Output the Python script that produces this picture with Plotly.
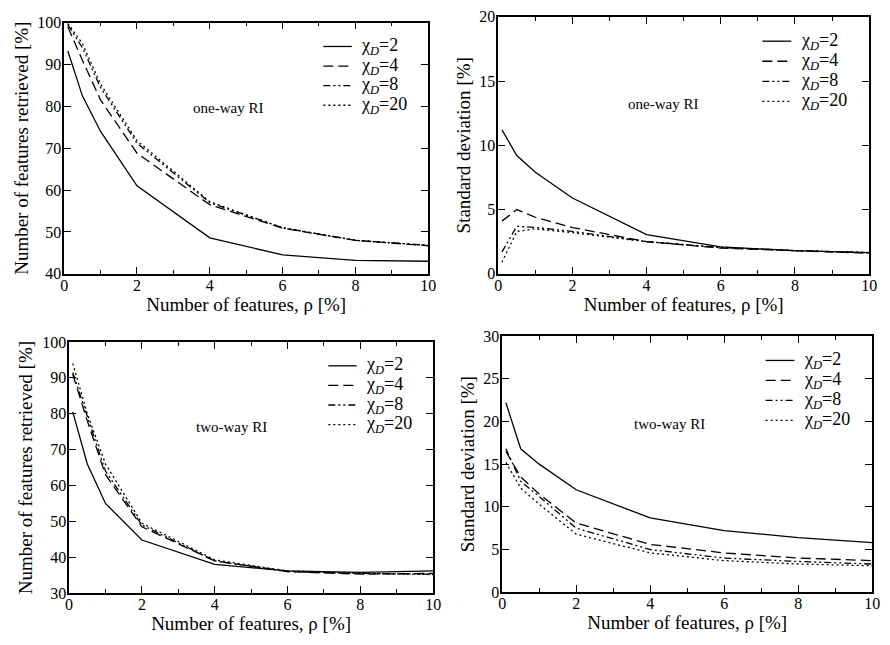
import plotly.graph_objects as go

# Feature fraction rho [%] at which each curve was evaluated
rho = [0.1, 0.5, 1, 2, 4, 6, 8, 10]
chi_levels = ["2", "4", "8", "20"]

# One-way RI: features retrieved [%]
one_way_retrieved = {
    "2": [93.2, 82.5, 74.0, 61.0, 48.6, 44.5, 43.2, 43.0],
    "4": [99.0, 91.0, 81.5, 68.8, 56.5, 50.9, 48.0, 46.7],
    "8": [99.5, 94.0, 84.5, 71.2, 57.0, 51.0, 48.0, 46.8],
    "20": [99.8, 95.0, 85.3, 71.8, 57.2, 51.0, 48.0, 46.8],
}
# One-way RI: standard deviation [%]
one_way_std = {
    "2": [11.2, 9.2, 7.9, 5.9, 3.05, 2.1, 1.8, 1.65],
    "4": [4.1, 5.0, 4.4, 3.6, 2.5, 2.0, 1.8, 1.6],
    "8": [1.7, 3.7, 3.6, 3.3, 2.5, 2.05, 1.8, 1.65],
    "20": [0.9, 3.3, 3.5, 3.2, 2.5, 2.05, 1.8, 1.65],
}
# Two-way RI: features retrieved [%]
two_way_retrieved = {
    "2": [80.5, 66.0, 55.0, 44.8, 38.0, 36.2, 35.8, 36.2],
    "4": [91.0, 78.0, 63.0, 48.5, 39.0, 36.0, 35.3, 35.5],
    "8": [91.5, 79.0, 64.0, 49.0, 39.0, 36.0, 35.5, 35.3],
    "20": [94.0, 80.0, 66.0, 49.5, 39.3, 36.2, 35.5, 35.2],
}
# Two-way RI: standard deviation [%]
two_way_std = {
    "2": [22.2, 16.8, 15.0, 12.0, 8.7, 7.2, 6.4, 5.8],
    "4": [16.5, 13.5, 11.5, 8.1, 5.6, 4.6, 4.0, 3.7],
    "8": [16.8, 13.0, 11.2, 7.5, 5.0, 4.0, 3.6, 3.3],
    "20": [15.2, 12.2, 10.3, 6.8, 4.6, 3.7, 3.3, 3.1],
}

dash_styles = {
    "2": "solid",
    "4": "10px,5px",
    "8": "7px,3px,2px,3px,2px,3px",
    "20": "2px,3px",
}

W, H = 890, 645
FONT = "Liberation Serif"

panels = [
    # data, y-range, y-dtick, y-title, label, x-pixels, y-pixels (top, bottom), label pos
    (one_way_retrieved, [40, 100], 10, "Number of features retrieved [%]", "one-way RI",
     (61, 430), (15, 273), (4.5, 79.5)),
    (one_way_std, [0, 20], 5, "Standard deviation [%]", "one-way RI",
     (501, 877), (9, 273), (4.45, 13.2)),
    (two_way_retrieved, [30, 100], 10, "Number of features retrieved [%]", "two-way RI",
     (66, 435), (343, 601), (4.47, 76.4)),
    (two_way_std, [0, 30], 5, "Standard deviation [%]", "two-way RI",
     (505, 880), (337, 600), (4.53, 19.7)),
]

# Key placement inside each panel (axis-domain fractions)
key_x0, key_x1, key_text_x = 0.712, 0.79, 0.81
key_rows = [0.905, 0.827, 0.749, 0.671]

fig = go.Figure()
layout = dict(
    width=W, height=H,
    margin=dict(l=0, r=0, t=0, b=0),
    paper_bgcolor="white", plot_bgcolor="white",
    font=dict(family=FONT, color="black"),
    showlegend=False,
)
annotations = []
shapes = []

for i, (data, yr, ydt, ytitle, label, xpx, ypx, lab) in enumerate(panels, start=1):
    suffix = "" if i == 1 else str(i)
    xa, ya = "x" + suffix, "y" + suffix
    for c in chi_levels:
        fig.add_trace(go.Scatter(
            x=rho, y=data[c], mode="lines",
            name=f"χD={c}",
            line=dict(color="black", width=1.3, dash=dash_styles[c]),
            xaxis=xa, yaxis=ya,
        ))
    axis_common = dict(
        showline=True, linecolor="black", linewidth=1.5, mirror="ticks",
        ticks="inside", ticklen=7, tickwidth=1, tickcolor="black",
        showgrid=False, zeroline=False,
        tickfont=dict(family=FONT, size=16, color="black"),
    )
    layout["xaxis" + suffix] = dict(
        axis_common,
        domain=[xpx[0] / W, xpx[1] / W],
        anchor=ya, range=[0, 10], dtick=2, tick0=0,
        ticklabelstandoff=-4,
        minor=dict(dtick=1, ticks="inside", ticklen=4, tickcolor="black"),
        title=dict(text="Number of features, ρ [%]", standoff=3,
                   font=dict(family=FONT, size=19, color="black")),
    )
    layout["yaxis" + suffix] = dict(
        axis_common,
        domain=[1 - ypx[1] / H, 1 - ypx[0] / H],
        anchor=xa, range=yr, dtick=ydt, tick0=0,
        ticklabelstandoff=-2,
        title=dict(text=ytitle, standoff=4,
                   font=dict(family=FONT, size=19, color="black")),
    )
    annotations.append(dict(
        x=lab[0], y=lab[1], xref=xa, yref=ya, text=label, showarrow=False,
        font=dict(family=FONT, size=15, color="black"),
    ))
    # Line-style key
    for c, ry in zip(chi_levels, key_rows):
        shapes.append(dict(
            type="line", xref=xa + " domain", yref=ya + " domain",
            x0=key_x0, x1=key_x1, y0=ry, y1=ry,
            line=dict(color="black", width=1.3, dash=dash_styles[c]),
        ))
        annotations.append(dict(
            x=key_text_x, y=ry, xref=xa + " domain", yref=ya + " domain",
            xanchor="left", yanchor="middle", showarrow=False,
            text=f"χ<sub><i>D</i></sub>={c}",
            font=dict(family=FONT, size=18, color="black"),
        ))

layout["annotations"] = annotations
layout["shapes"] = shapes
fig.update_layout(**layout)
fig.write_html("out.html")
